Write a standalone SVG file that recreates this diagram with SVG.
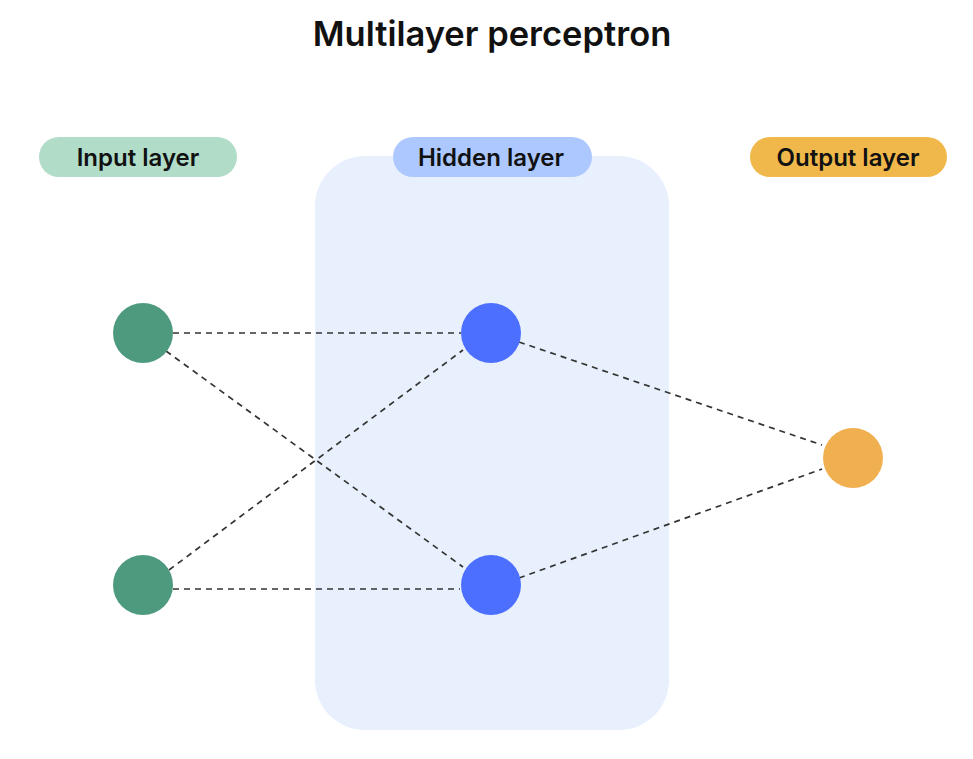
<svg xmlns="http://www.w3.org/2000/svg" width="973" height="759" viewBox="0 0 973 759">
<style>
.title{font-family:Inter,"Liberation Sans",sans-serif;font-weight:600;font-size:34.5px;fill:#111;text-anchor:middle}
.pl{font-family:Inter,"Liberation Sans",sans-serif;font-weight:600;font-size:24px;fill:#111;text-anchor:middle}
.edge{stroke:#333;stroke-width:1.7;stroke-dasharray:6 5;fill:none}
</style>
<rect width="973" height="759" fill="#fff"/>
<text class="title" x="492" y="45.5">Multilayer perceptron</text>
<rect id="hidden-box" x="315" y="156" width="354" height="574" rx="50" fill="#E8F0FD"/>
<g id="label-input"><rect x="39" y="137" width="198" height="40" rx="20" fill="#B0DCC8"/><text class="pl" x="138" y="166">Input layer</text></g>
<g id="label-hidden"><rect x="393" y="137" width="199" height="40" rx="20" fill="#ADC8FF"/><text class="pl" x="491" y="166">Hidden layer</text></g>
<g id="label-output"><rect x="750" y="137" width="197" height="40" rx="20" fill="#F0B84A"/><text class="pl" x="848" y="166">Output layer</text></g>
<g id="connectors">
<line class="edge" x1="173" y1="333" x2="461" y2="333"/>
<line class="edge" x1="166" y1="351" x2="463" y2="567"/>
<line class="edge" x1="169" y1="570" x2="463" y2="350"/>
<line class="edge" x1="173" y1="589" x2="460" y2="589"/>
<line class="edge" x1="519" y1="342" x2="822" y2="445"/>
<line class="edge" x1="519" y1="578" x2="822" y2="469"/>
</g>
<g id="in1"><circle cx="143" cy="333" r="30" fill="#4E9A7F"/></g>
<g id="in2"><circle cx="143" cy="585" r="30" fill="#4E9A7F"/></g>
<g id="h1"><circle cx="491" cy="333" r="30" fill="#4D6FFF"/></g>
<g id="h2"><circle cx="491" cy="585" r="30" fill="#4D6FFF"/></g>
<g id="out"><circle cx="853" cy="458" r="30" fill="#F0B050"/></g>
</svg>
